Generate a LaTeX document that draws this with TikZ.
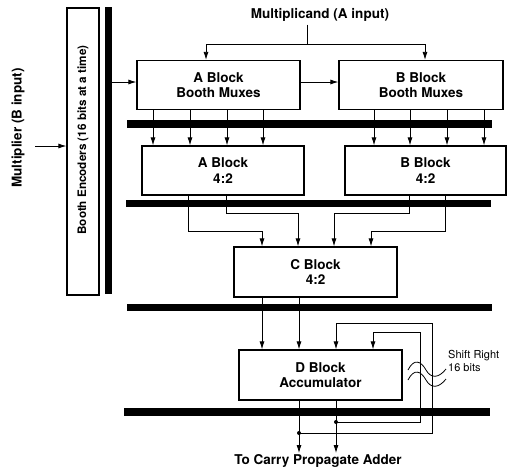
\documentclass[tikz,border=0pt]{standalone}
\usepackage{fontspec}
\setmainfont{TeX Gyre Heros}
\usetikzlibrary{arrows.meta}
\begin{document}
\begin{tikzpicture}[x=1pt,y=-1pt,
  blk/.style={draw,line width=1.3pt,minimum width=163pt,minimum height=49pt,inner sep=0pt,align=center,font=\bfseries\fontsize{13.5}{15.5}\selectfont},
  lbl/.style={font=\bfseries\fontsize{13.5}{15.5}\selectfont,inner sep=0pt},
  conn/.style={line width=0.8pt},
  arr/.style={conn,-{Latex[length=8pt,width=5pt]}},
  bus/.style={fill=black},
  dot/.style={circle,fill=black,inner sep=0pt,minimum size=4pt}]
\useasboundingbox (0,0) rectangle (508,472);
% buses
\fill[bus] (105,7) rectangle (112,294);
\fill[bus] (127,120) rectangle (492,128);
\fill[bus] (126,200) rectangle (491,207);
\fill[bus] (127,304) rectangle (492,311);
\fill[bus] (124,408) rectangle (490,416);
% blocks
\node[blk,minimum width=32pt,minimum height=287pt] (enc) at (83,151.5) {};
\node[rotate=90,font=\bfseries\fontsize{11.7}{13}\selectfont,inner sep=0pt] (enctext) at (83,140) {Booth Encoders (16 bits at a time)};
\node[blk] (amux) at (218.5,85) {A Block\\Booth Muxes};
\node[blk,minimum width=164pt] (bmux) at (421,85) {B Block\\Booth Muxes};
\node[blk,minimum width=162pt] (a42) at (223,170.5) {A Block\\4:2};
\node[blk,minimum width=161pt] (b42) at (425.5,170.5) {B Block\\4:2};
\node[blk,minimum height=50pt] (cblk) at (315.5,272) {C Block\\4:2};
\node[blk,minimum height=50pt] (dblk) at (320.5,375) {D Block\\Accumulator};
% labels
\node[lbl] (mult) at (320,15) {Multiplicand (A input)};
\node[lbl,rotate=90] (mlier) at (18,128) {Multiplier (B input)};
\node[lbl] (cpa) at (318,461) {To Carry Propagate Adder};
\node[font=\fontsize{11}{13}\selectfont,align=left,anchor=west,inner sep=0pt] (shift) at (448,360.5) {Shift Right\\16 bits};
% multiplicand
\coordinate (split) at (307,44);
\draw[conn] (307,0 |- mult.south) ++(0,3) -- (split);
\draw[arr] (split) -| (206,0 |- amux.north);
\draw[arr] (split) -| (425,0 |- bmux.north);
% multiplier
\coordinate (min) at (35,146);
\draw[arr] (min) -- (enc.west |- min);
\draw[arr] (112,82) -- (amux.west |- 0,82);
\draw[arr] (amux.east |- 0,82) -- (bmux.west |- 0,82);
% mux to 4:2
\foreach \x in {153,190,227,263} \draw[arr] (\x,0 |- amux.south) -- (\x,0 |- a42.north);
\foreach \x in {374,410,447,484} \draw[arr] (\x,0 |- bmux.south) -- (\x,0 |- b42.north);
% 4:2 to C
\draw[arr] (188,0 |- a42.south) -- (188,231) -- (262,231) -- (262,0 |- cblk.north);
\draw[arr] (226,0 |- a42.south) -- (226,213) -- (298,213) -- (298,0 |- cblk.north);
\draw[arr] (409,0 |- b42.south) -- (409,213) -- (334,213) -- (334,0 |- cblk.north);
\draw[arr] (445,0 |- b42.south) -- (445,231) -- (371,231) -- (371,0 |- cblk.north);
% C to D
\foreach \x in {262,299} \draw[arr] (\x,0 |- cblk.south) -- (\x,0 |- dblk.north);
% D outputs
\coordinate (o1) at (299,453);
\coordinate (o2) at (336,453);
\draw[arr] (o1 |- dblk.south) -- (o1);
\draw[arr] (o2 |- dblk.south) -- (o2);
\node[dot] (d1) at (299,433) {};
\node[dot] (d2) at (336,422) {};
\draw[arr] (d1.center) -- (432,433) -- (432,323) -- (336,323) -- (336,0 |- dblk.north);
\draw[arr] (d2.center) -- (420,422) -- (420,332) -- (373,332) -- (373,0 |- dblk.north);
% break waves
\draw[conn] (408,370) .. controls (414,358) and (421,361) .. (426,370) .. controls (431,379) and (439,378) .. (446,369);
\draw[conn] (408,380) .. controls (414,368) and (421,371) .. (426,380) .. controls (431,389) and (439,388) .. (446,379);
\end{tikzpicture}
\end{document}
